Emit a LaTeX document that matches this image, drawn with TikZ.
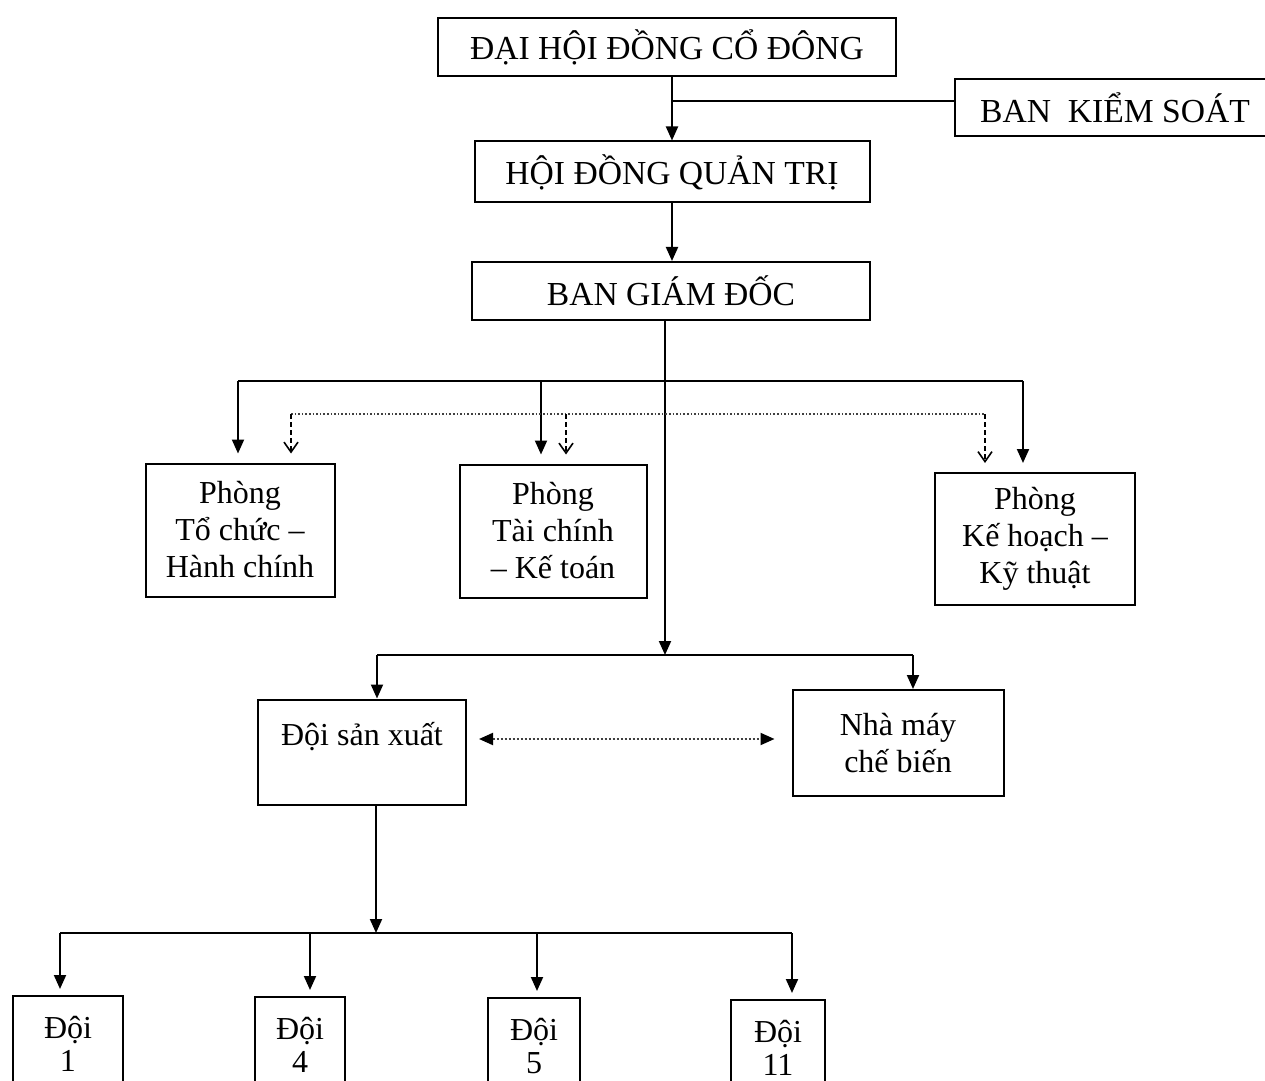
\documentclass[tikz,border=0pt]{standalone}
\usepackage{fontspec}
\setmainfont{Liberation Serif}
\usetikzlibrary{arrows.meta}
\begin{document}
\begin{tikzpicture}[x=0.5pt,y=-0.5pt,
  box/.style={draw,line width=1pt,align=center,inner sep=0pt,font=\fontsize{16}{18.5}\selectfont},
  capbox/.style={box,font=\fontsize{16.8}{18.5}\selectfont},
  link/.style={line width=1pt},
  arr/.style={line width=1pt,-{Triangle[length=7pt,width=6pt]}},
  dasharr/.style={line width=0.8pt,dash pattern=on 2.5pt off 1.5pt,-{Straight Barb[length=5pt,width=7pt]}},
  biarr/.style={line width=1pt,black!75,densely dotted,{Triangle[length=7pt,width=6pt,black]}-{Triangle[length=7pt,width=6pt,black]}}]
\useasboundingbox (0,0) rectangle (1265,1081);
\clip (0,0) rectangle (1265,1081);
\node[capbox,minimum width=229pt,minimum height=29pt] (dhdcd) at (667,47) {ĐẠI HỘI ĐỒNG CỔ ĐÔNG};
\node[capbox,minimum width=160pt,minimum height=28.5pt] (bks) at (1115,108) {BAN\ \ KIỂM SOÁT};
\node[capbox,minimum width=197.5pt,minimum height=30.5pt] (hdqt) at (672,172) {HỘI ĐỒNG QUẢN TRỊ};
\node[capbox,minimum width=199pt,minimum height=29pt] (bgd) at (671,291) {BAN GIÁM ĐỐC};
\node[box,minimum width=94.5pt,minimum height=66.5pt] (tchc) at (240,530) {Phòng\\Tổ chức –\\Hành chính};
\node[box,minimum width=93.5pt,minimum height=66.5pt] (tckt) at (553,531) {Phòng\\Tài chính\\– Kế toán};
\node[box,minimum width=100pt,minimum height=66pt] (khkt) at (1035,539) {Phòng\\Kế hoạch –\\Kỹ thuật};
\node[box,minimum width=104pt,minimum height=52.5pt] (dsx) at (362,752) {Đội sản xuất\\\mbox{}};
\node[box,minimum width=105.5pt,minimum height=53pt] (nmcb) at (898,743) {Nhà máy\\chế biến};

\coordinate (j) at (672,101);
\coordinate (a1) at (238,381); \coordinate (a2) at (541,381); \coordinate (a3) at (1023,381);
\coordinate (d1) at (291,414); \coordinate (d2) at (566,414); \coordinate (d3) at (985,414);
\coordinate (m) at (665,655);
\coordinate (c1) at (377,655); \coordinate (c2) at (913,655);
\coordinate (s) at (376,933);

\draw[arr] (hdqt.north |- dhdcd.south) -- (hdqt.north);
\draw[link] (j) -- (j -| bks.west);
\draw[arr] (hdqt.south) -- (hdqt.south |- bgd.north);
\draw[arr] (m |- bgd.south) -- (m);

\draw[link] (a1) -- (a3);
\draw[arr,shorten >=4.5pt] (a1) -- (a1 |- tchc.north);
\draw[arr,shorten >=4.5pt] (a2) -- (a2 |- tckt.north);
\draw[arr,shorten >=4.5pt] (a3) -- (a3 |- khkt.north);
\draw[line width=0.8pt,black!75,densely dotted] (d1) -- (d3);
\draw[dasharr,shorten >=4.5pt] (d1) -- (d1 |- tchc.north);
\draw[dasharr,shorten >=4.5pt] (d2) -- (d2 |- tckt.north);
\draw[dasharr,shorten >=4.5pt] (d3) -- (d3 |- khkt.north);

\draw[link] (c1) -- (c2);
\draw[arr] (c1) -- (c1 |- dsx.north);
\draw[arr] (c2) -- (c2 |- nmcb.north);
\draw[biarr,shorten <=6pt,shorten >=8.5pt] ([yshift=6.5pt]dsx.east) -- ([yshift=6.5pt]dsx.east -| nmcb.west);

\draw[arr] (s |- dsx.south) -- (s);
\draw[link] (60,933) -- (792,933);
\foreach \n/\cx/\top/\w/\ax in {1/68/995/110/60,4/300/996/90/310,5/534/997/92/537,11/778/999/94/792}{
  \node[box,font=\fontsize{16}{16.5}\selectfont,anchor=north,minimum width=\w*0.5pt,minimum height=48pt] (doi\n) at (\cx,\top) {Đội\\\n};
  \coordinate (b\n) at (\ax,933);
  \draw[arr,shorten >=3pt] (b\n) -- (b\n |- doi\n.north);
}
\end{tikzpicture}
\end{document}
